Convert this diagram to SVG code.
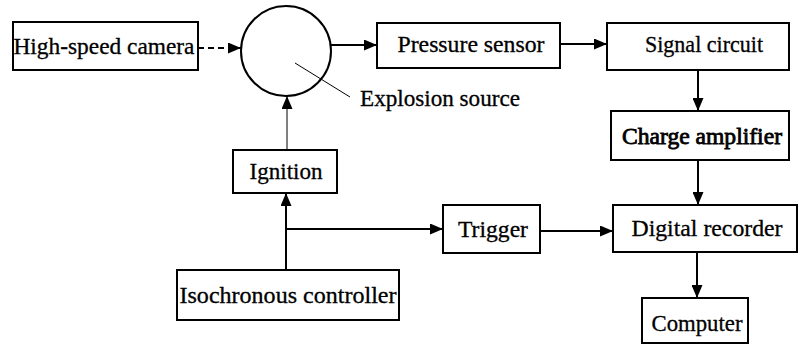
<svg xmlns="http://www.w3.org/2000/svg" width="803" height="347" viewBox="0 0 803 347">
<defs>
<marker id="ah" markerWidth="13" markerHeight="11" refX="13" refY="5.5" orient="auto" markerUnits="userSpaceOnUse">
<path d="M0,0 L13,5.5 L0,11 z" fill="#000"/>
</marker>
<style>
.box{fill:#fff;stroke:#000;stroke-width:2}
.lbl{font-family:"Liberation Serif","Times New Roman",serif;font-size:23px;fill:#000;stroke:#000;stroke-width:0.3;text-anchor:middle}
.c{fill:none;stroke:#000;stroke-width:2}
.thin{fill:none;stroke:#000;stroke-width:1}
</style>
</defs>
<rect width="803" height="347" fill="#fff"/>
<g id="connectors">
<path class="c" d="M198,48 L241,48" stroke-dasharray="6,4" marker-end="url(#ah)"/>
<path class="c" d="M331,45 L377,45" marker-end="url(#ah)"/>
<path class="c" d="M560,44 L607,44" marker-end="url(#ah)"/>
<path class="c" d="M698,70 L698,111" marker-end="url(#ah)"/>
<path class="c" d="M698,160 L698,205" marker-end="url(#ah)"/>
<path class="c" d="M697,252 L697,298" marker-end="url(#ah)"/>
<path class="c" d="M286,270 L286,193" marker-end="url(#ah)"/>
<path class="c" d="M286,229 L443,229" marker-end="url(#ah)"/>
<path class="c" d="M540,231 L613,231" marker-end="url(#ah)"/>
<path class="thin" d="M287,150 L287,96" marker-end="url(#ah)"/>
<path class="thin" d="M295,63 L350,97" stroke-width="1.5"/>
</g>
<g id="camera">
<rect class="box" x="13" y="22" width="185" height="48"/>
<text class="lbl" x="104" y="54" textLength="181" lengthAdjust="spacingAndGlyphs">High-speed camera</text>
</g>
<g id="explosion">
<circle cx="286" cy="51" r="45" fill="none" stroke="#000" stroke-width="2"/>
<text class="lbl" x="360" y="106" style="text-anchor:start" textLength="160" lengthAdjust="spacingAndGlyphs">Explosion source</text>
</g>
<g id="pressure">
<rect class="box" x="377" y="23" width="183" height="45"/>
<text class="lbl" x="471" y="52" textLength="147" lengthAdjust="spacingAndGlyphs">Pressure sensor</text>
</g>
<g id="signal">
<rect class="box" x="607" y="23" width="182" height="47"/>
<text class="lbl" x="704" y="52" textLength="118" lengthAdjust="spacingAndGlyphs">Signal circuit</text>
</g>
<g id="charge">
<rect class="box" x="611" y="111" width="178" height="49"/>
<text class="lbl" x="702" y="144" style="stroke-width:0.8" textLength="160" lengthAdjust="spacingAndGlyphs">Charge amplifier</text>
</g>
<g id="ignition">
<rect class="box" x="233" y="150" width="104" height="43"/>
<text class="lbl" x="286" y="179" textLength="73" lengthAdjust="spacingAndGlyphs">Ignition</text>
</g>
<g id="trigger">
<rect class="box" x="443" y="205" width="97" height="48"/>
<text class="lbl" x="493" y="237" textLength="70" lengthAdjust="spacingAndGlyphs">Trigger</text>
</g>
<g id="recorder">
<rect class="box" x="613" y="205" width="184" height="47"/>
<text class="lbl" x="707" y="236" textLength="151" lengthAdjust="spacingAndGlyphs">Digital recorder</text>
</g>
<g id="controller">
<rect class="box" x="177" y="270" width="222" height="50"/>
<text class="lbl" x="288" y="303" textLength="217" lengthAdjust="spacingAndGlyphs">Isochronous controller</text>
</g>
<g id="computer">
<rect class="box" x="642" y="298" width="106" height="45"/>
<text class="lbl" x="697" y="331" textLength="91" lengthAdjust="spacingAndGlyphs">Computer</text>
</g>
</svg>
